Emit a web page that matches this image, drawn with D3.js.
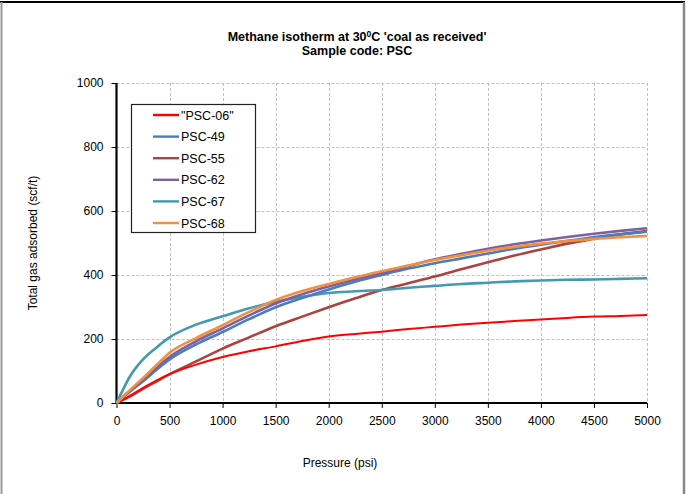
<!DOCTYPE html>
<html>
<head>
<meta charset="utf-8">
<script src="https://cdn.jsdelivr.net/npm/d3@7"></script>
<style>
  html, body { margin: 0; padding: 0; background: #fff; }
  svg { display: block; font-family: "Liberation Sans", Arial, sans-serif; }
</style>
</head>
<body>
<svg id="chart" width="687" height="494"></svg>
<script>
// Pressure steps (psi) shared by all isotherms
const pressure = [0, 50, 125, 250, 375, 500, 750, 1000, 1250, 1500, 1750, 2000, 2250, 2500, 2750, 3000, 3250, 3500, 3750, 4000, 4250, 4500, 4750, 5000];

// Total gas adsorbed (scf/t) per sample
const psc06 = [0, 8, 22, 47, 70, 90, 120, 144, 162, 177, 194, 208, 216, 223, 231, 238, 245, 251, 256, 261, 266, 270, 272, 275];
const psc49 = [0, 14, 35, 68, 103, 136, 183, 222, 262, 299, 328, 355, 379, 400, 420, 437, 452, 467, 482, 495, 507, 518, 527, 535];
const psc55 = [0, 8, 20, 44, 67, 90, 130, 170, 205, 240, 270, 299, 327, 353, 374, 395, 418, 440, 461, 480, 498, 513, 527, 537];
const psc62 = [0, 15, 37, 72, 110, 144, 193, 233, 274, 311, 340, 364, 386, 406, 428, 449, 466, 482, 496, 508, 519, 529, 538, 546];
const psc67 = [0, 34, 82, 136, 173, 205, 245, 271, 296, 316, 332, 344, 349, 353, 360, 366, 372, 376, 380, 383, 385, 386, 388, 390];
const psc68 = [0, 16, 40, 78, 118, 157, 203, 243, 285, 322, 350, 372, 393, 412, 430, 447, 462, 476, 488, 498, 506, 513, 518, 522];

const seriesNames = ['"PSC-06"', "PSC-49", "PSC-55", "PSC-62", "PSC-67", "PSC-68"];
const seriesValues = [psc06, psc49, psc55, psc62, psc67, psc68];
const seriesColors = ["#FF0000", "#4A7EBB", "#AC4340", "#7D60A0", "#4399B0", "#F29040"];

const xTicks = [0, 500, 1000, 1500, 2000, 2500, 3000, 3500, 4000, 4500, 5000];
const yTicks = [0, 200, 400, 600, 800, 1000];

const svg = d3.select("#chart");

// Outer frame
svg.append("line").attr("x1", 0).attr("x2", 685).attr("y1", 2).attr("y2", 2)
  .attr("stroke", "#000").attr("stroke-width", 2);
svg.append("line").attr("x1", 1.5).attr("x2", 1.5).attr("y1", 2).attr("y2", 494)
  .attr("stroke", "#999").attr("stroke-width", 2);
svg.append("line").attr("x1", 684).attr("x2", 684).attr("y1", 2).attr("y2", 494)
  .attr("stroke", "#888").attr("stroke-width", 2.5);

const plot = { left: 116.5, right: 647, top: 83, bottom: 403 };

const x = d3.scaleLinear().domain([0, 5000]).range([plot.left, plot.right]);
const y = d3.scaleLinear().domain([0, 1000]).range([plot.bottom, plot.top]);

// Dashed gridlines
const grid = svg.append("g").attr("stroke", "#c0c0c0").attr("stroke-width", 1).attr("stroke-dasharray", "3,2");
grid.selectAll(".gx").data(xTicks.slice(1)).join("line")
  .attr("x1", d => Math.round(x(d)) + 0.5).attr("x2", d => Math.round(x(d)) + 0.5)
  .attr("y1", plot.top).attr("y2", plot.bottom);
grid.selectAll(".gy").data(yTicks.slice(1)).join("line")
  .attr("x1", plot.left).attr("x2", plot.right)
  .attr("y1", d => Math.round(y(d)) + 0.5).attr("y2", d => Math.round(y(d)) + 0.5);

// Axes
const xAxis = svg.append("g").attr("transform", `translate(0,${plot.bottom})`)
  .call(d3.axisBottom(x).tickValues(xTicks).tickSize(5).tickPadding(8).tickFormat(d3.format("d")));
const yAxis = svg.append("g").attr("transform", `translate(${plot.left},0)`)
  .call(d3.axisLeft(y).tickValues(yTicks).tickSize(5).tickPadding(8).tickFormat(d3.format("d")));
[xAxis, yAxis].forEach(a => {
  a.select(".domain").attr("stroke", "#000").attr("stroke-width", 2.2);
  a.selectAll(".tick line").attr("stroke", "#000").attr("stroke-width", 1);
  a.selectAll(".tick text").attr("fill", "#000").style("font-size", "12px")
    .style("font-family", '"Liberation Sans", Arial, sans-serif');
});
yAxis.select(".domain").attr("d", `M0,${plot.bottom}V${plot.top}`);
xAxis.select(".domain").attr("d", `M${plot.left},0H${plot.right}`);
yAxis.selectAll(".tick line").attr("x1", -5).attr("x2", 0);

// Isotherm curves
const line = d3.line()
  .x((d, i) => x(pressure[i]))
  .y(d => y(d))
  .curve(d3.curveMonotoneX);

const drawOrder = [2, 0, 4, 1, 3, 5];
svg.append("g").selectAll("path").data(drawOrder).join("path")
  .attr("d", k => line(seriesValues[k]))
  .attr("fill", "none")
  .attr("stroke", k => seriesColors[k])
  .attr("stroke-width", k => k === 0 ? 2 : 2.6)
  .attr("stroke-linejoin", "round");

// Legend
const legend = svg.append("g");
legend.append("rect").attr("x", 131.5).attr("y", 104.5).attr("width", 124).attr("height", 128)
  .attr("fill", "#fff").attr("stroke", "#222").attr("stroke-width", 1.2);
const rows = legend.selectAll("g.row").data(seriesNames).join("g")
  .attr("transform", (d, i) => `translate(0,${115 + i * 21.6})`);
rows.append("line").attr("x1", 153).attr("x2", 179).attr("y1", 0).attr("y2", 0)
  .attr("stroke", (d, i) => seriesColors[i]).attr("stroke-width", 2.4);
rows.append("text").attr("x", 181).attr("y", 4.5).text(d => d)
  .style("font-size", "12.5px").attr("fill", "#000");

// Titles
const title = svg.append("text").attr("x", 357).attr("y", 41).attr("text-anchor", "middle")
  .style("font-size", "12.5px").style("font-weight", "bold").attr("fill", "#000");
title.append("tspan").text("Methane isotherm at 30");
title.append("tspan").text("0").style("font-size", "8.5px").attr("dy", -4);
title.append("tspan").text("C 'coal as received'").attr("dy", 4);
svg.append("text").attr("x", 357).attr("y", 55).attr("text-anchor", "middle")
  .style("font-size", "12.5px").style("font-weight", "bold").attr("fill", "#000")
  .text("Sample code: PSC");

// Axis titles
svg.append("text").attr("x", 340).attr("y", 467).attr("text-anchor", "middle")
  .style("font-size", "12px").attr("fill", "#000").text("Pressure (psi)");
svg.append("text").attr("transform", "translate(37,243) rotate(-90)").attr("text-anchor", "middle")
  .style("font-size", "12px").attr("fill", "#000").text("Total gas adsorbed (scf/t)");
</script>
</body>
</html>
